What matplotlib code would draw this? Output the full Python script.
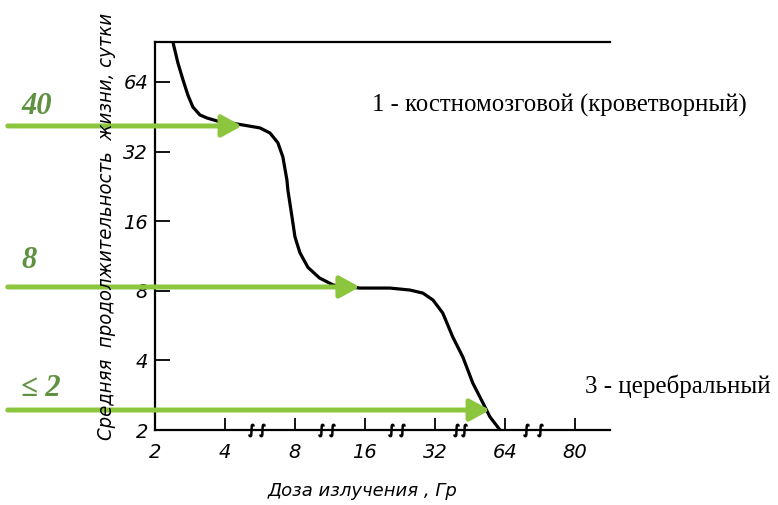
import matplotlib.pyplot as plt
import numpy as np
from matplotlib.ticker import NullLocator

# dose axis is drawn with breaks: equal steps between 2,4,8,16,32,64,80
dose_ticks = [2, 4, 8, 16, 32, 64, 80]
dose_nodes = [1, 2, 4, 8, 16, 32, 64, 80, 100]
days_ticks = [2, 4, 8, 16, 32, 64]

# survival curve (dose in Gy, mean survival in days)
dose = [2.39, 2.51, 2.64, 2.77, 2.91, 3.12, 3.35, 3.70, 4.20, 4.78, 5.66, 6.25,
        6.76, 7.10, 7.39, 7.46, 7.77, 8.0, 8.40, 9.10, 10.2, 11.7, 15.2, 20.5,
        25.0, 28.4, 31.4, 34.6, 38.2, 42.2, 46.6, 51.5, 55.2, 61.0]
days = [95.0, 77.3, 65.3, 56.2, 49.9, 46.1, 44.7, 43.4, 42.6, 41.7, 40.5, 38.5,
        34.9, 30.3, 24.1, 21.8, 16.7, 13.7, 11.7, 10.1, 9.09, 8.47, 8.22, 8.22,
        8.06, 7.82, 7.30, 6.41, 5.05, 4.14, 3.19, 2.62, 2.28, 2.0]

# green arrows: level (days), tip dose, label
arrow_levels = [41.3, 8.31, 2.44]
arrow_tips = [4.73, 15.2, 55.2]
arrow_labels = ['40', '8', '≤ 2']

# axis break marks (Gy)
break_doses = [5.2, 5.8, 10.4, 11.6, 20.8, 23.2, 39.5, 42.5, 68.5, 71.5]

green = '#8cc63f'
green_text = '#5e9140'
pos = np.arange(len(dose_nodes)) - 1.0


def fwd(x):
    return np.interp(np.log2(np.clip(x, 1e-6, None)), np.log2(dose_nodes), pos)


def inv(p):
    return 2.0 ** np.interp(p, pos, np.log2(dose_nodes))


fig = plt.figure(figsize=(7.78, 5.05), dpi=100)
ax = fig.add_axes([155 / 778, 1 - 430 / 505, 455 / 778, 388 / 505])

ax.set_xscale('function', functions=(fwd, inv))
ax.set_yscale('log', base=2)
ax.plot(dose, days, color='black', lw=2.3, solid_capstyle='round')

ax.set_xlim(2, 89.5)
ax.set_ylim(2, 95.3)
ax.set_xticks(dose_ticks)
ax.set_xticklabels([str(d) for d in dose_ticks])
ax.set_yticks(days_ticks)
ax.set_yticklabels([str(d) for d in days_ticks])
ax.xaxis.set_minor_locator(NullLocator())
ax.yaxis.set_minor_locator(NullLocator())

ax.spines['right'].set_visible(False)
for s in ['left', 'bottom', 'top']:
    ax.spines[s].set_linewidth(1.6)
ax.tick_params(axis='y', direction='in', length=11, width=1.3, pad=5)
ax.tick_params(axis='x', direction='in', length=9, width=1.3, pad=9)
for lab in ax.get_xticklabels() + ax.get_yticklabels():
    lab.set_fontsize(14)
    lab.set_fontstyle('italic')

# break marks on the dose axis
ax.plot(break_doses, [2] * len(break_doses), linestyle='none', marker=r'$\int$',
        markersize=9, color='black', clip_on=False)

# arrows coming from the left edge of the figure
for lvl, tip in zip(arrow_levels, arrow_tips):
    ax.annotate('', xy=(tip, lvl), xytext=(0.01, lvl),
                xycoords='data', textcoords=('figure fraction', 'data'),
                arrowprops=dict(arrowstyle='-|>,head_length=1.0,head_width=0.55',
                                color=green, lw=3.6, shrinkA=0, shrinkB=0,
                                mutation_scale=12),
                annotation_clip=False)

label_y = [106, 260, 388]
for lab, yp in zip(arrow_labels, label_y):
    fig.text(21 / 778, 1 - yp / 505, lab, color=green_text, fontsize=22,
             family=['Liberation Serif', 'DejaVu Serif'], weight='bold',
             style='italic', va='center')

fig.text(372 / 778, 1 - 105 / 505, '1 - костномозговой (кроветворный)',
         family='Liberation Serif', fontsize=17.8, va='center')
fig.text(585 / 778, 1 - 386 / 505, '3 - церебральный',
         family='Liberation Serif', fontsize=18, va='center')

fig.text(107 / 778, 1 - 226 / 505, 'Средняя  продолжительность  жизни, сутки',
         rotation=90, ha='center', va='center', fontsize=14.5, style='italic',
         fontstretch='condensed')
fig.text(363 / 778, 1 - 491 / 505, 'Доза излучения , Гр', ha='center', va='center',
         fontsize=13, style='italic')

fig.savefig('out.png', dpi=100, facecolor='white')
